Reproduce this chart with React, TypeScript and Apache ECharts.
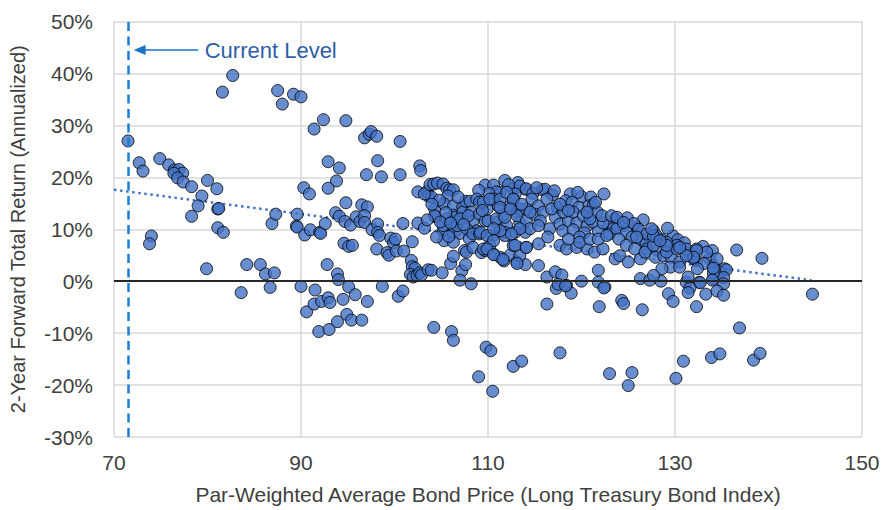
import { useEffect, useRef } from "react";
import * as echarts from "echarts";

const xAxisMin = 70;
const xAxisMax = 150;
const xAxisStep = 20;
const yAxisMin = -30;
const yAxisMax = 50;
const yAxisStep = 10;

// [bond price, 2-year forward annualized total return %]
const observationsLeft: [number, number][] = [
  [71.5, 27.0], [72.7, 22.8], [73.1, 21.2], [74.9, 23.6], [75.85, 22.4], [76.45, 21.4], [76.95, 21.5],
  [77.35, 20.8], [76.4, 20.8], [76.8, 19.9], [77.4, 19.1], [78.3, 18.2], [80.0, 19.4], [81.0, 17.8],
  [79.4, 16.4], [79.0, 14.5], [78.3, 12.5], [81.1, 13.9], [81.2, 14.0], [81.1, 10.3], [81.7, 9.4],
  [74.0, 8.7], [73.8, 7.2], [79.9, 2.4], [84.2, 3.2], [85.65, 3.2], [86.2, 1.4], [87.15, 1.6],
  [86.7, -1.2], [83.6, -2.2], [86.9, 11.1], [87.3, 12.9], [89.6, 12.9], [89.5, 10.6], [89.6, 10.4],
  [90.4, 8.9], [91.0, 9.9], [92.0, 9.4], [92.1, 9.2], [92.6, 11.1], [92.8, 3.2],
  [81.6, 36.4], [82.7, 39.6], [87.5, 36.7], [88.0, 34.1], [89.2, 36.0], [90.0, 35.5], [91.4, 29.3],
  [92.4, 31.1], [94.8, 30.9], [92.9, 23.0], [94.1, 21.8], [93.8, 19.3], [92.9, 17.9], [90.3, 18.0],
  [90.9, 16.8], [96.8, 27.6], [97.3, 28.3], [97.5, 28.8], [98.1, 27.9], [100.6, 26.9], [98.2, 23.2],
  [97.0, 20.5], [98.6, 20.1], [100.6, 20.5], [102.7, 22.2], [102.8, 21.3],
  [94.8, 15.1], [96.5, 14.7], [97.1, 14.3], [93.7, 13.2], [94.1, 12.5], [94.7, 11.5], [95.3, 10.8],
  [95.9, 12.4], [96.3, 11.5], [96.8, 12.6], [96.8, 11.3], [94.6, 7.3], [95.1, 6.7], [95.5, 6.9],
  [97.6, 9.9], [98.2, 11.0], [98.2, 9.4], [98.4, 8.8], [98.1, 6.2], [99.6, 8.3], [99.9, 7.4],
  [100.1, 8.1], [99.2, 5.5], [99.4, 5.0], [100.2, 5.8], [101.0, 5.8], [101.9, 7.6], [100.9, 11.1],
  [102.5, 11.2], [103.2, 10.2], [93.9, 1.4], [94.0, 0.3], [101.8, 4.0], [101.9, 2.8], [102.2, 2.5],
  [101.7, 1.3], [102.0, 0.8], [102.4, 1.1], [102.7, 1.6], [102.9, 1.2], [103.6, 2.2], [103.95, 2.1],
  [90.0, -1.0], [91.5, -1.7], [90.6, -5.9], [91.4, -4.4], [92.2, -3.9], [92.9, -3.2], [93.1, -4.1],
  [91.9, -9.7], [93.0, -9.3], [93.9, -7.8], [94.5, -3.5], [95.1, -1.1], [95.8, -2.6], [97.1, -3.9],
  [98.7, -1.0], [94.9, -6.4], [95.4, -7.5], [96.5, -7.5], [100.4, -2.9], [100.9, -1.9],
];

const observationsMiddle: [number, number][] = [
  [105.1, 1.6], [106.0, 3.4], [106.3, 4.8], [107.2, 2.0], [107.6, 3.2], [107.0, 0.2], [108.2, -0.5],
  [102.5, 17.2], [103.5, 17.3], [103.6, 16.4], [103.95, 16.2], [103.2, 16.8], [103.8, 18.6], [104.2, 18.7],
  [104.6, 18.9], [105.2, 18.7], [105.6, 17.9], [105.9, 17.6], [106.3, 17.6], [105.7, 16.4],
  [104.3, 13.9], [104.4, 12.4], [105.3, 14.9], [106.3, 14.5], [107.3, 14.3], [106.3, 12.7], [106.5, 12.3],
  [107.3, 13.3], [105.2, 9.7], [105.3, 7.8], [106.2, 10.4], [106.3, 9.3], [107.0, 9.2], [107.6, 15.4],
  [108.1, 15.4], [108.2, 13.3], [108.4, 11.6], [108.4, 9.3], [108.8, 9.7],
  [104.3, 12.6], [105.2, 10.7], [105.6, 12.0], [106.7, 10.7], [107.0, 12.0], [107.7, 10.1], [104.5, 8.5],
  [106.3, 7.5], [107.5, 5.9],
  [104.8, 15.6], [105.5, 13.2], [106.8, 16.2], [107.9, 12.6], [104.9, 11.4], [106.0, 11.2], [107.4, 10.9],
  [108.0, 8.2], [105.8, 8.6], [104.0, 14.8], [103.5, 11.8],
  [107.7, 5.6], [108.4, 6.5], [109.3, 5.5], [109.7, 5.9], [110.6, 5.2], [111.3, 4.6], [111.7, 3.9],
  [112.4, 5.1], [113.1, 3.7], [114.0, 3.2],
  [109.7, 18.5], [110.6, 18.5], [111.8, 19.4], [113.2, 19.0], [114.0, 17.7],
  [111.3, 17.1], [112.7, 17.7], [113.4, 18.3], [114.1, 17.8],
  [110.9, 17.2], [112.2, 18.6], [112.9, 16.8], [110.1, 16.9], [109.0, 17.5],
  [108.8, 15.8], [109.1, 15.2], [109.9, 13.9], [110.6, 15.8], [111.1, 14.5], [111.6, 12.6], [112.4, 14.5],
  [112.7, 15.8], [113.1, 13.3], [113.4, 11.3], [114.1, 13.9], [109.1, 12.9], [109.7, 11.6], [110.9, 11.3],
  [112.0, 10.7], [112.9, 9.4], [114.0, 9.4], [108.4, 9.1], [109.1, 9.1], [110.5, 8.8], [111.8, 9.4],
  [112.7, 6.9], [113.4, 4.9], [114.1, 6.5], [109.5, 6.2], [110.2, 6.9],
  [104.2, -8.9], [106.1, -9.7], [106.3, -11.4], [109.8, -12.7], [110.3, -13.4], [109.0, -18.4],
  [110.5, -21.2], [112.7, -16.4], [113.6, -15.4],
];

const observationsRight: [number, number][] = [
  [115.8, 17.6], [116.1, 17.7], [120.0, 16.3], [122.4, 16.8],
  [114.8, 16.9], [115.2, 18.0], [116.9, 16.6], [117.1, 17.4], [118.8, 16.8], [119.6, 17.1], [121.0, 16.2],
  [109.5, 15.2], [110.2, 15.8], [111.3, 15.8], [112.0, 17.1], [112.7, 15.8], [113.4, 13.9], [114.7, 15.8],
  [115.4, 14.5], [116.3, 15.8], [117.4, 14.2], [118.3, 15.5], [119.0, 15.2], [119.7, 14.2], [120.8, 14.5],
  [121.3, 14.8], [121.7, 13.3], [123.6, 12.0], [126.6, 11.8], [127.7, 9.7],
  [109.4, 13.6], [110.0, 11.6], [110.9, 12.0], [111.8, 12.3], [113.1, 12.6], [114.1, 11.6], [115.0, 12.9],
  [115.9, 13.3], [116.6, 10.1], [117.2, 12.3], [117.7, 11.0], [118.6, 11.6], [119.5, 11.3], [120.6, 10.7],
  [121.8, 9.7], [122.9, 10.7], [123.4, 10.1], [124.5, 10.7], [125.9, 10.4], [126.3, 8.1], [127.3, 8.5],
  [128.5, 8.1], [129.8, 8.7],
  [118.0, 9.7], [119.1, 9.9], [120.3, 9.3], [121.2, 11.4], [122.3, 11.2], [123.0, 9.1], [124.9, 12.2],
  [125.6, 11.1], [126.1, 10.0], [126.9, 7.2], [128.1, 6.0], [129.2, 10.2], [130.3, 8.0], [131.0, 7.4],
  [131.8, 5.4], [133.0, 6.7], [134.0, 5.9],
  [109.2, 9.4], [109.9, 8.8], [110.6, 7.8], [111.8, 8.8], [112.9, 6.9], [114.1, 6.5], [115.4, 7.2],
  [116.4, 8.5], [117.7, 6.9], [118.4, 6.2], [119.5, 6.5], [119.8, 8.5], [120.6, 6.2], [121.4, 5.6],
  [122.3, 6.2], [123.6, 4.3], [124.1, 4.9], [125.0, 3.7], [126.3, 4.3], [127.0, 6.2], [127.9, 4.6],
  [128.8, 4.9], [129.6, 4.6], [130.5, 3.7], [131.4, 4.9], [132.3, 4.0], [133.7, 4.3], [135.3, 2.4],
  [109.9, 6.2], [110.6, 5.1], [111.6, 4.2], [113.1, 3.4], [115.4, 3.0], [116.3, 0.8], [117.2, 1.8],
  [117.9, 1.2], [120.0, 0.0], [121.8, 2.1], [121.8, -0.2], [122.5, -1.1], [126.3, 0.5], [127.3, 0.2],
  [128.5, 0.0], [131.2, -0.2], [132.6, -0.2], [134.1, 0.5],
  [111.3, 14.2], [112.4, 13.9], [113.6, 14.8], [114.5, 13.3], [115.6, 11.6], [116.8, 13.9], [118.1, 13.3],
  [119.1, 13.3], [120.2, 12.6], [120.9, 12.0], [122.2, 12.6], [123.2, 12.6], [123.8, 10.1], [124.8, 9.4],
  [125.4, 8.5], [127.0, 9.1], [128.0, 8.8], [129.1, 7.5], [130.2, 6.9], [131.2, 6.2], [132.3, 6.2],
  [133.4, 5.6], [134.1, 3.0], [134.8, 1.8], [114.5, 10.1], [115.4, 10.7], [113.4, 10.1], [112.5, 9.1],
  [111.3, 9.7], [110.6, 10.1], [118.6, 8.1], [119.8, 7.5], [120.9, 8.1], [121.8, 8.1], [122.7, 8.8],
  [124.0, 8.1], [124.8, 6.9], [125.7, 6.2], [126.8, 5.6], [127.7, 6.9], [129.1, 5.6], [130.2, 6.2],
  [132.0, 4.3], [133.1, 3.4], [134.5, 4.3], [117.7, 14.8], [118.6, 13.6], [120.6, 13.3], [121.5, 15.2],
  [123.8, 12.3], [124.5, 11.3], [125.9, 8.5],
  [136.6, 6.0], [139.3, 4.4], [135.5, 2.2], [135.2, 0.7], [135.2, -0.5], [134.1, 1.6], [134.0, 0.2],
  [132.7, -0.3], [131.6, -1.3], [132.3, 5.9], [132.0, 4.6], [131.2, 4.9], [130.5, 6.5], [129.1, 6.9],
  [127.7, 8.7], [127.5, 10.1], [128.4, 7.8], [129.5, 2.7], [128.6, 2.4], [127.7, 1.1], [130.5, 2.7],
  [131.4, 0.8], [132.4, 2.4], [134.1, 2.5],
];

const observationsNegative: [number, number][] = [
  [117.3, -1.4], [118.4, -0.8], [118.9, -2.3], [116.3, -4.4], [121.9, -4.9], [122.4, -1.3], [124.3, -3.7],
  [124.5, -4.3], [126.5, -5.5], [129.3, -2.4], [129.8, -3.9], [131.4, -2.2], [132.3, -4.9], [133.3, -2.5],
  [134.5, -1.9], [135.2, -2.7], [117.5, -0.6], [118.3, -0.9],
  [144.7, -2.5], [136.9, -9.0], [117.7, -13.8], [123.0, -17.8], [125.4, -17.6], [125.0, -20.1],
  [130.1, -18.7], [130.9, -15.4], [133.9, -14.7], [134.8, -14.0], [138.4, -15.2], [139.1, -13.9],
];

const trendX = [70, 144.6];
const trendY = [17.6, 0.2];

const currentLevel = 71.5;
const annotationText = "Current Level";
const annotationY = 44.5;
const arrowTipX = 72.1;
const arrowTailX = 79.0;
const labelX = 79.7;

const xTitle = "Par-Weighted Average Bond Price (Long Treasury Bond Index)";
const yTitle = "2-Year Forward Total Return (Annualized)";

const FONT = '"Liberation Sans", Arial, Helvetica, sans-serif';

export default function App() {
  const ref = useRef<HTMLDivElement>(null);

  useEffect(() => {
    if (!ref.current) return;
    const chart = echarts.init(ref.current, null, { renderer: "svg" });
    const observations = [
      ...observationsLeft,
      ...observationsMiddle,
      ...observationsRight,
      ...observationsNegative,
    ];
    chart.setOption({
      animation: false,
      textStyle: { fontFamily: FONT },
      grid: { left: 114, right: 21, top: 21.5, bottom: 70.5, containLabel: false },
      xAxis: {
        type: "value",
        min: xAxisMin,
        max: xAxisMax,
        interval: xAxisStep,
        name: xTitle,
        nameLocation: "middle",
        nameGap: 47,
        nameTextStyle: { color: "#404040", fontSize: 21, fontFamily: FONT },
        axisLine: { show: false },
        axisTick: { show: false },
        axisLabel: { color: "#404040", fontSize: 21, margin: 15, fontFamily: FONT },
        splitLine: { show: true, lineStyle: { color: "#d9d9d9", width: 1.5 } },
      },
      yAxis: {
        type: "value",
        min: yAxisMin,
        max: yAxisMax,
        interval: yAxisStep,
        name: yTitle,
        nameLocation: "middle",
        nameRotate: 90,
        nameGap: 86,
        nameTextStyle: { color: "#404040", fontSize: 20, fontFamily: FONT },
        axisLine: { show: false },
        axisTick: { show: false },
        axisLabel: {
          color: "#404040",
          fontSize: 21,
          margin: 21,
          fontFamily: FONT,
          formatter: "{value}%",
        },
        splitLine: { show: true, lineStyle: { color: "#d9d9d9", width: 1.5 } },
      },
      series: [
        {
          type: "line",
          data: trendX.map((x, i) => [x, trendY[i]]),
          symbol: "none",
          z: 1,
          lineStyle: { color: "#4472c4", width: 2.5, type: [2.5, 3.6] },
          markLine: {
            silent: true,
            symbol: "none",
            label: { show: false },
            data: [
              { yAxis: 0, lineStyle: { color: "#262626", width: 2, type: "solid" } },
              { xAxis: currentLevel, lineStyle: { color: "#1a7fd6", width: 2.5, type: [9, 5.5] } },
            ],
          },
        },
        {
          type: "scatter",
          data: observations,
          symbol: "circle",
          symbolSize: 12,
          z: 3,
          itemStyle: { color: "#4472c4", borderColor: "#000000", borderWidth: 1 },
        },
      ],
    });

    const tip = chart.convertToPixel({ gridIndex: 0 }, [arrowTipX, annotationY]) as number[];
    const tail = chart.convertToPixel({ gridIndex: 0 }, [arrowTailX, annotationY]) as number[];
    const lbl = chart.convertToPixel({ gridIndex: 0 }, [labelX, annotationY]) as number[];
    const arrowColor = "#1a72c6";
    chart.setOption({
      graphic: [
        {
          type: "line",
          shape: { x1: tail[0], y1: tail[1], x2: tip[0] + 10, y2: tip[1] },
          style: { stroke: arrowColor, lineWidth: 1.5 },
          z: 10,
        },
        {
          type: "polygon",
          shape: {
            points: [
              [tip[0], tip[1]],
              [tip[0] + 12, tip[1] - 5],
              [tip[0] + 12, tip[1] + 5],
            ],
          },
          style: { fill: arrowColor },
          z: 10,
        },
        {
          type: "text",
          x: lbl[0],
          y: lbl[1],
          z: 10,
          style: {
            text: annotationText,
            fill: "#2e5ea8",
            fontSize: 22,
            fontFamily: FONT,
            verticalAlign: "middle",
            align: "left",
          },
        },
      ],
    });

    return () => chart.dispose();
  }, []);

  return (
    <div
      ref={ref}
      style={{ position: "fixed", left: 0, top: 0, width: 883, height: 510, background: "#ffffff" }}
    />
  );
}
